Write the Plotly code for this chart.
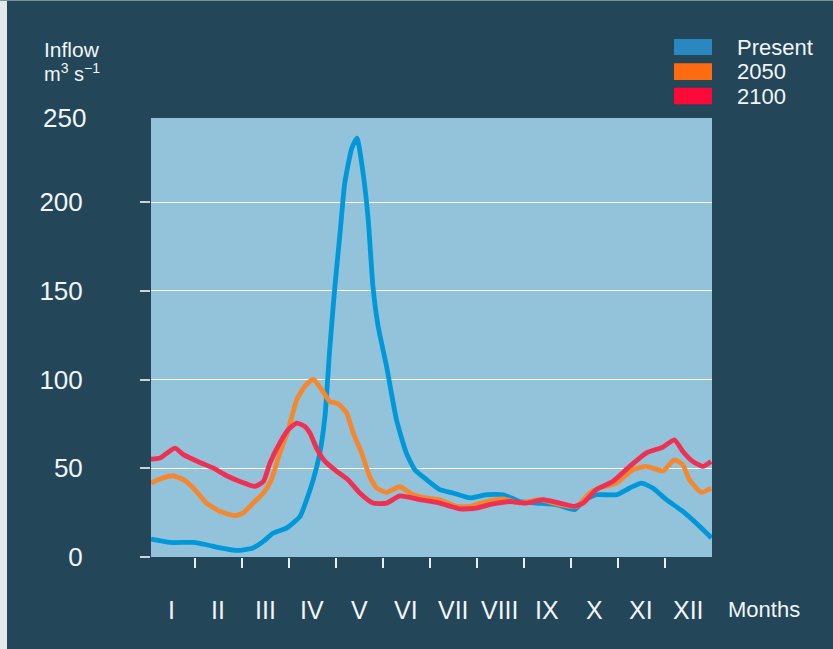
import plotly.graph_objects as go

# ---- data (x in months from 1 Jan, y in m3/s) ----
present_x = [0.07, 0.47, 0.97, 1.25, 1.54, 1.89, 2.24, 2.46, 2.67, 2.95, 3.24, 3.38, 3.52, 3.66, 3.77,
             3.87, 3.98, 4.09, 4.19, 4.34, 4.45, 4.58, 4.69, 4.79, 4.90, 5.08, 5.29, 5.50, 5.68, 5.93,
             6.21, 6.49, 6.85, 7.20, 7.56, 7.91, 8.27, 8.69, 9.08, 9.29, 9.54, 9.97, 10.25, 10.50,
             10.74, 11.03, 11.38, 11.74, 11.99]
present_y = [10.1, 8.2, 8.2, 6.9, 5.1, 3.7, 5.1, 8.8, 13.5, 16.3, 22.9, 32.3, 43.6, 58.6, 79.3,
             116.9, 152.5, 182.6, 210.8, 230.5, 236.2, 216.5, 190.0, 152.5, 130.0, 107.4, 77.4, 58.6,
             49.2, 43.6, 38.0, 36.1, 33.3, 35.1, 35.1, 31.3, 30.4, 29.5, 26.7, 32.3, 35.1, 35.1, 38.9,
             41.7, 38.9, 32.3, 25.7, 17.2, 10.7]

y2050_x = [0.07, 0.26, 0.54, 0.76, 0.97, 1.25, 1.54, 1.86, 2.03, 2.24, 2.46, 2.63, 2.81, 2.99, 3.17,
           3.34, 3.52, 3.70, 3.87, 4.05, 4.23, 4.37, 4.55, 4.72, 4.87, 5.08, 5.36, 5.64, 5.93, 6.21,
           6.57, 6.85, 7.20, 7.56, 7.91, 8.34, 8.76, 9.12, 9.40, 9.61, 9.97, 10.32, 10.60, 10.96,
           11.20, 11.38, 11.52, 11.77, 11.98]
y2050_y = [41.7, 44.0, 45.8, 43.6, 38.9, 30.4, 25.7, 23.3, 24.8, 30.4, 36.1, 43.6, 58.6, 71.8, 88.7,
           96.2, 100.3, 94.3, 87.7, 86.4, 81.2, 69.9, 58.6, 45.4, 38.9, 36.4, 39.6, 35.1, 33.3, 32.3,
           28.5, 28.5, 31.3, 32.7, 30.4, 32.3, 29.5, 28.5, 36.1, 38.9, 41.7, 49.2, 51.1, 48.6,
           54.8, 52.0, 43.6, 36.4, 38.9]

y2100_x = [0.07, 0.26, 0.58, 0.76, 1.11, 1.39, 1.68, 1.96, 2.28, 2.46, 2.60, 2.81, 2.99, 3.17, 3.34,
           3.45, 3.59, 3.77, 4.02, 4.26, 4.51, 4.79, 5.08, 5.36, 5.79, 6.21, 6.64, 6.99, 7.34, 7.70,
           8.05, 8.41, 8.76, 9.08, 9.26, 9.54, 9.89, 10.25, 10.60, 10.96, 11.20, 11.38, 11.59,
           11.81, 11.98]
y2100_y = [55.2, 55.8, 61.4, 57.7, 53.3, 50.2, 45.8, 42.6, 39.8, 42.6, 53.0, 64.3, 71.8, 75.5, 73.6,
           69.9, 61.4, 53.9, 48.3, 43.6, 36.1, 30.4, 30.4, 34.4, 32.3, 30.4, 27.1, 27.6, 29.9, 31.3,
           30.4, 32.3, 30.4, 28.5, 30.4, 38.0, 42.6, 51.1, 58.6, 62.0, 66.1, 59.5, 53.9,
           51.1, 53.9]

month_labels = ["I", "II", "III", "IV", "V", "VI", "VII", "VIII", "IX", "X", "XI", "XII"]
y_ticks = [0, 50, 100, 150, 200]
series_names = ["Present", "2050", "2100"]
line_colors = ["#0098D8", "#F5872E", "#EE3152"]
legend_colors = ["#2A87C0", "#FF6B10", "#FF0A38"]

FONT = "Liberation Sans, Arial, sans-serif"
BG = "#234659"
TXT = "#F2F5F7"

fig = go.Figure()
for xs, ys, name, col in zip([present_x, y2050_x, y2100_x], [present_y, y2050_y, y2100_y],
                             series_names, line_colors):
    fig.add_trace(go.Scatter(x=xs, y=ys, mode="lines", name=name,
                             line=dict(color=col, width=4.8, shape="spline", smoothing=0.5),
                             showlegend=False))

fig.update_layout(
    width=833, height=649,
    margin=dict(l=151, r=121, t=118, b=92),
    paper_bgcolor=BG, plot_bgcolor="#93C3DB",
    font=dict(family=FONT, color=TXT),
    xaxis=dict(range=[0.07, 12], tickvals=list(range(1, 12)), ticktext=[""] * 11,
               ticks="outside", ticklen=10, tickwidth=1.5, tickcolor="#E8EEF1",
               showgrid=False, zeroline=False, showline=False, fixedrange=True),
    yaxis=dict(range=[0, 247.5], tickvals=y_ticks, ticks="outside", ticklen=10, tickwidth=1.5,
               tickcolor="#C9D3D8", ticklabelstandoff=52,
               tickfont=dict(size=26, color=TXT, family=FONT),
               showgrid=True, gridcolor="#FFFFFF", gridwidth=1.2, zeroline=False, showline=False),
)

ann = []
for i, lab in enumerate(month_labels):
    ann.append(dict(x=i + 0.5, xref="x", y=-0.1207, yref="paper", text=lab, showarrow=False,
                    xanchor="center", yanchor="middle", font=dict(size=25, color=TXT, family=FONT)))
ann.append(dict(x=1.0927, xref="paper", y=-0.1207, yref="paper", text="Months", showarrow=False,
                xanchor="center", yanchor="middle", font=dict(size=22, color=TXT, family=FONT)))
ann.append(dict(x=-0.113, xref="paper", y=247.5, yref="y", text="250", showarrow=False,
                xanchor="right", yanchor="middle", font=dict(size=26, color=TXT, family=FONT)))
ann.append(dict(x=-0.1943, xref="paper", y=1.1549, yref="paper", text="Inflow", showarrow=False,
                xanchor="left", yanchor="middle", font=dict(size=21, color=TXT, family=FONT)))
ann.append(dict(x=-0.1943, xref="paper", y=1.1028, yref="paper", text="m<sup>3</sup> s<sup>−1</sup>",
                showarrow=False, xanchor="left", yanchor="middle",
                font=dict(size=20, color=TXT, family=FONT)))

shapes = []
leg_y = [(1.1435, 1.18, 1.1617), (1.0866, 1.1246, 1.1057), (1.0312, 1.069, 1.0501)]
for (y0, y1, yc), name, col in zip(leg_y, series_names, legend_colors):
    shapes.append(dict(type="rect", xref="paper", yref="paper", x0=0.9323, x1=1.0, y0=y0, y1=y1,
                       fillcolor=col, line=dict(width=0), layer="above"))
    ann.append(dict(x=1.041, xref="paper", y=yc, yref="paper", text=name, showarrow=False,
                    xanchor="left", yanchor="middle", font=dict(size=22, color=TXT, family=FONT)))

# thin light frame on the left and top edges of the picture
shapes.append(dict(type="rect", xref="paper", yref="paper", x0=-0.2692, x1=-0.2567, y0=-0.22, y1=1.28,
                   fillcolor="#E4E9EC", line=dict(width=0), layer="above"))
shapes.append(dict(type="rect", xref="paper", yref="paper", x0=-0.27, x1=1.22, y0=1.2665, y1=1.28,
                   fillcolor="#7E929D", line=dict(width=0), layer="above"))

fig.update_layout(annotations=ann, shapes=shapes)
fig.write_html("out.html", config={"displayModeBar": False},
               post_script="document.body.style.margin='0';document.body.style.padding='0';")
